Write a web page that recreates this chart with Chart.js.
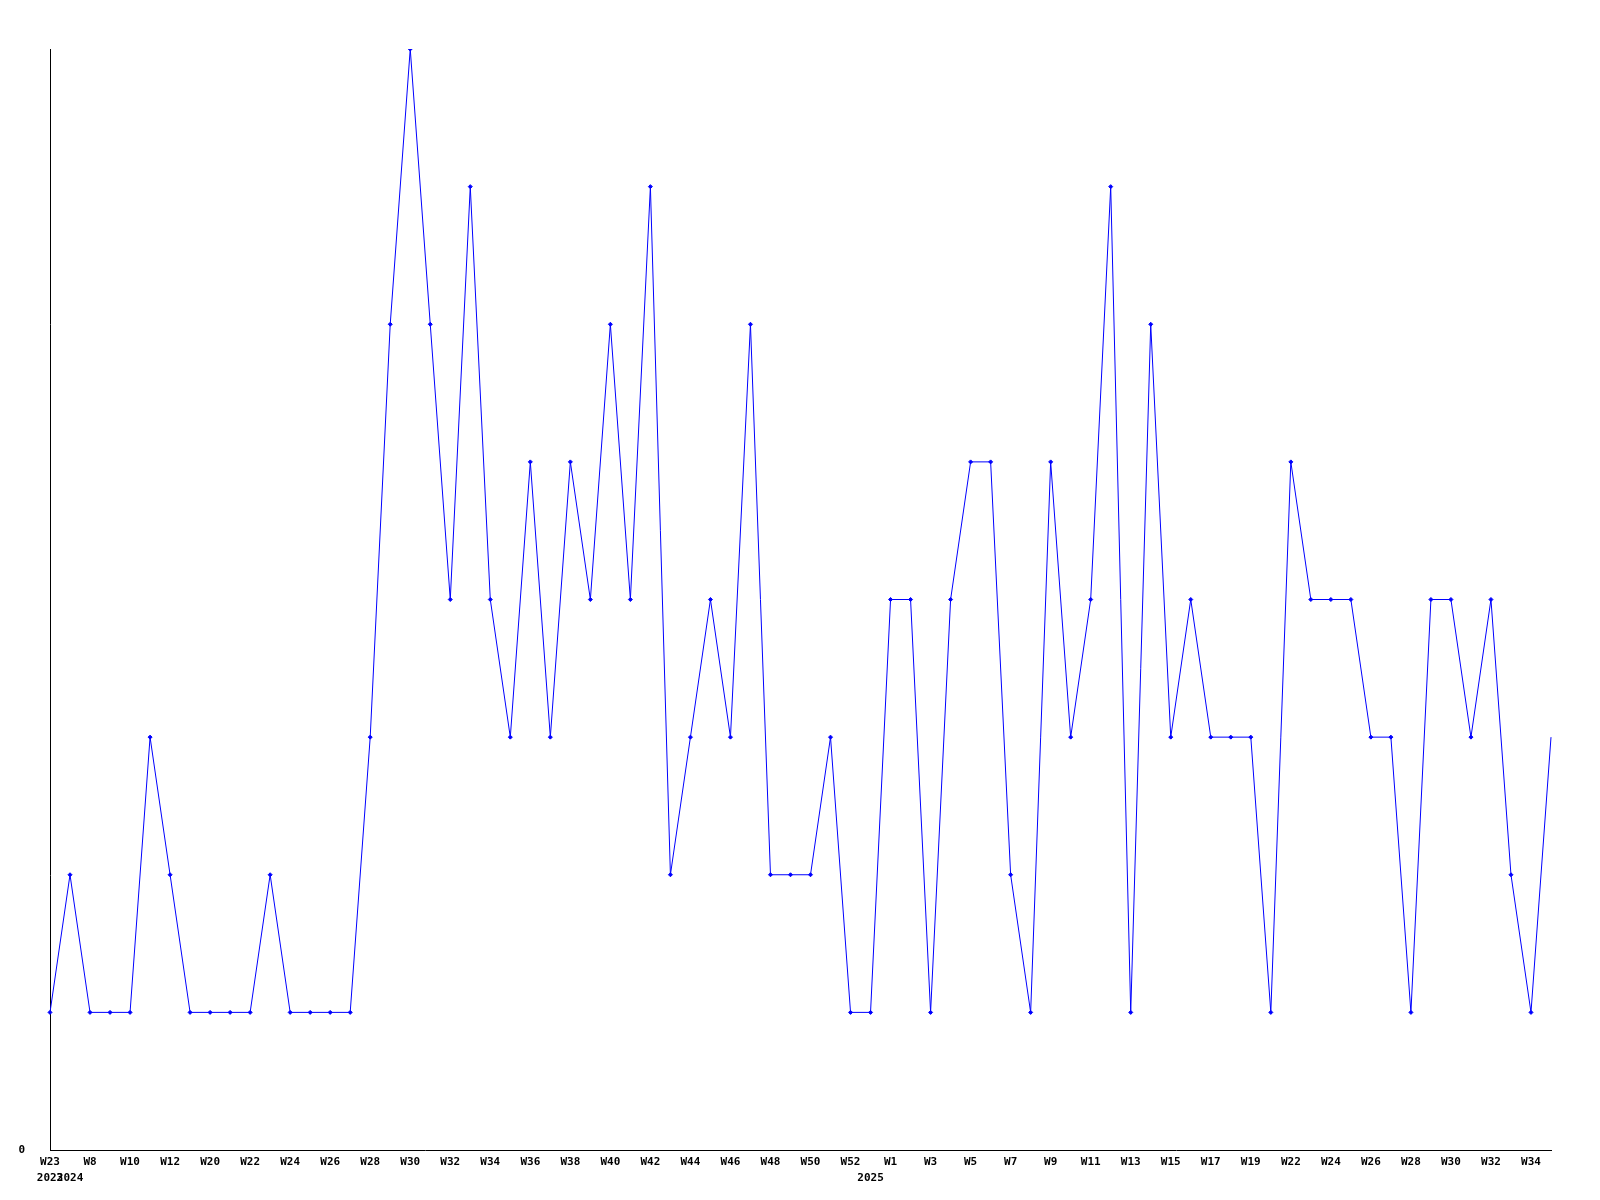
<!DOCTYPE html>
<html>
<head>
<meta charset="utf-8">
<script src="https://cdn.jsdelivr.net/npm/chart.js@4"></script>
<style>
  html, body { margin: 0; padding: 0; background: #fff; }
  canvas { display: block; }
</style>
</head>
<body>
<canvas id="weekChart" width="1600" height="1200"></canvas>
<script>
// Settimane (etichette dell'asse x)
const weeks = [
    'W23', 'W7', 'W8', 'W9', 'W10', 'W11', 'W12', 'W19', 'W20', 'W21',
    'W22', 'W23', 'W24', 'W25', 'W26', 'W27', 'W28', 'W29', 'W30', 'W31',
    'W32', 'W33', 'W34', 'W35', 'W36', 'W37', 'W38', 'W39', 'W40', 'W41',
    'W42', 'W43', 'W44', 'W45', 'W46', 'W47', 'W48', 'W49', 'W50', 'W51',
    'W52', 'W1', 'W1', 'W2', 'W3', 'W4', 'W5', 'W6', 'W7', 'W8',
    'W9', 'W10', 'W11', 'W12', 'W13', 'W14', 'W15', 'W16', 'W17', 'W18',
    'W19', 'W21', 'W22', 'W23', 'W24', 'W25', 'W26', 'W27', 'W28', 'W29',
    'W30', 'W31', 'W32', 'W33', 'W34', 'W35'
];

// Anno di ogni punto
const years = [
    2023,
    2024, 2024, 2024, 2024, 2024, 2024, 2024, 2024, 2024, 2024,
    2024, 2024, 2024, 2024, 2024, 2024, 2024, 2024, 2024, 2024,
    2024, 2024, 2024, 2024, 2024, 2024, 2024, 2024, 2024, 2024,
    2024, 2024, 2024, 2024, 2024, 2024, 2024, 2024, 2024, 2024,
    2025, 2025, 2025, 2025, 2025, 2025, 2025, 2025, 2025, 2025,
    2025, 2025, 2025, 2025, 2025, 2025, 2025, 2025, 2025, 2025,
    2025, 2025, 2025, 2025, 2025, 2025, 2025, 2025, 2025, 2025,
    2025, 2025, 2025, 2025, 2025
];

// Valori settimanali
const counts = [
    1, 2, 1, 1, 1, 3, 2, 1, 1, 1,
    1, 2, 1, 1, 1, 1, 3, 6, 8, 6,
    4, 7, 4, 3, 5, 3, 5, 4, 6, 4,
    7, 2, 3, 4, 3, 6, 2, 2, 2, 3,
    1, 1, 4, 4, 1, 4, 5, 5, 2, 1,
    5, 3, 4, 7, 1, 6, 3, 4, 3, 3,
    3, 1, 5, 4, 4, 4, 3, 3, 1, 4,
    4, 3, 4, 2, 1, 3
];

const yTicks = [0];

// etichetta dell'anno solo quando cambia
const yearLabels = years.map((y, i) => (i === 0 || y !== years[i - 1]) ? String(y) : '');

const tickFont = { family: 'DejaVu Sans Mono', size: 11, weight: 'bold' };

const ctx = document.getElementById('weekChart').getContext('2d');
const weekChart = new Chart(ctx, {
    type: 'line',
    data: {
        labels: weeks,
        datasets: [{
            data: counts,
            borderColor: '#0000ff',
            backgroundColor: '#0000ff',
            borderWidth: 1,
            tension: 0,
            pointStyle: 'rectRot',
            pointRadius: (c) => c.dataIndex === counts.length - 1 ? 0 : 2,
            pointBorderWidth: 1,
            fill: false
        }]
    },
    options: {
        responsive: false,
        animation: false,
        layout: { padding: { top: 49, right: 49, left: 0, bottom: 0 } },
        plugins: {
            legend: { display: false },
            tooltip: { enabled: false }
        },
        scales: {
            x: {
                type: 'category',
                offset: false,
                grid: { display: false, drawTicks: false },
                border: { display: true, color: '#000', width: 1 },
                ticks: {
                    autoSkip: false,
                    maxRotation: 0,
                    minRotation: 0,
                    padding: 6,
                    color: '#000',
                    font: tickFont,
                    callback: (v, i) => i % 2 === 0 ? weeks[i] : ''
                },
                afterFit: (s) => { s.height = 20; }
            },
            x2: {
                type: 'category',
                position: 'bottom',
                labels: yearLabels,
                offset: false,
                grid: { display: false, drawTicks: false },
                border: { display: false },
                ticks: {
                    autoSkip: false,
                    maxRotation: 0,
                    minRotation: 0,
                    padding: 2,
                    color: '#000',
                    font: tickFont
                },
                afterFit: (s) => { s.height = 30; }
            },
            y: {
                min: 0,
                max: 8,
                grid: { display: false, drawTicks: false },
                border: { display: true, color: '#000', width: 1 },
                ticks: {
                    stepSize: 8,
                    padding: 25,
                    color: '#000',
                    font: tickFont,
                    callback: (v) => yTicks.includes(v) ? String(v) : ''
                },
                afterFit: (s) => { s.width = 50; }
            }
        }
    }
});
</script>
</body>
</html>
